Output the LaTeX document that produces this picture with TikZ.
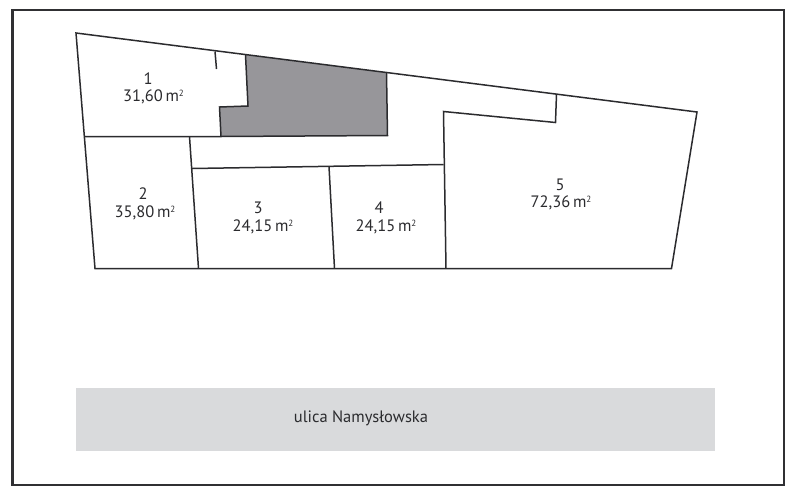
\documentclass[tikz,border=0pt]{standalone}
\usepackage{fontspec}
\setmainfont{PT Sans}
\definecolor{framegray}{HTML}{303033}
\definecolor{wallgray}{HTML}{2B2B2E}
\definecolor{unitgray}{HTML}{97969A}
\definecolor{roadgray}{HTML}{D9DADC}
\newcommand{\sqm}{\,m\raisebox{0.62ex}{\fontsize{9}{9}\selectfont 2}}
\tikzset{
  wall/.style={draw=wallgray,line width=1.5pt,line join=miter},
  unitlabel/.style={text=wallgray,font=\fontsize{16.5}{18}\selectfont,inner sep=0pt}
}
\begin{document}
\begin{tikzpicture}[x=1pt,y=-1pt]
\useasboundingbox (0,0) rectangle (800,493);
\draw[framegray,line width=2.2pt] (12.5,10) rectangle (784,485);

% road
\fill[roadgray] (76,388) rectangle (715,450.5);
\node[unitlabel] (road) at (361,418) {ulica Namysłowska};

% grey part of the building
\fill[unitgray] (245.5,55) -- (386.5,72.5) -- (387.5,135.5) -- (221,136.5) -- (219.5,107) -- (248,106) -- cycle;

% outline
\draw[wall] (76,33) -- (697,112) -- (671.5,268.5) -- (95,268.5) -- cycle;

% inner walls
\draw[wall] (84.5,136.5) -- (221,136.5) -- (387.5,135.5) -- (386.5,72.5);
\draw[wall] (245.5,55) -- (248,106) -- (219.5,107) -- (221,136.5);
\draw[wall] (215,51.5) -- (216.5,69);
\draw[wall] (189.5,136.5) -- (198.5,268.5);
\draw[wall] (192,168.5) -- (443.5,164.5);
\draw[wall] (329,166.5) -- (334.5,268.5);
\draw[wall] (446,268.5) -- (443.5,111.5) -- (555.5,122.5) -- (556.5,94);

% labels
\node[unitlabel] (n1) at (148,79) {1};
\node[unitlabel] (a1) at (153.5,97) {31,60\sqm};
\node[unitlabel] (n2) at (143,194) {2};
\node[unitlabel] (a2) at (145,213) {35,80\sqm};
\node[unitlabel] (n3) at (258,208) {3};
\node[unitlabel] (a3) at (263,226.5) {24,15\sqm};
\node[unitlabel] (n4) at (379,208) {4};
\node[unitlabel] (a4) at (386,227) {24,15\sqm};
\node[unitlabel] (n5) at (560,185) {5};
\node[unitlabel] (a5) at (561,203) {72,36\sqm};
\end{tikzpicture}
\end{document}
